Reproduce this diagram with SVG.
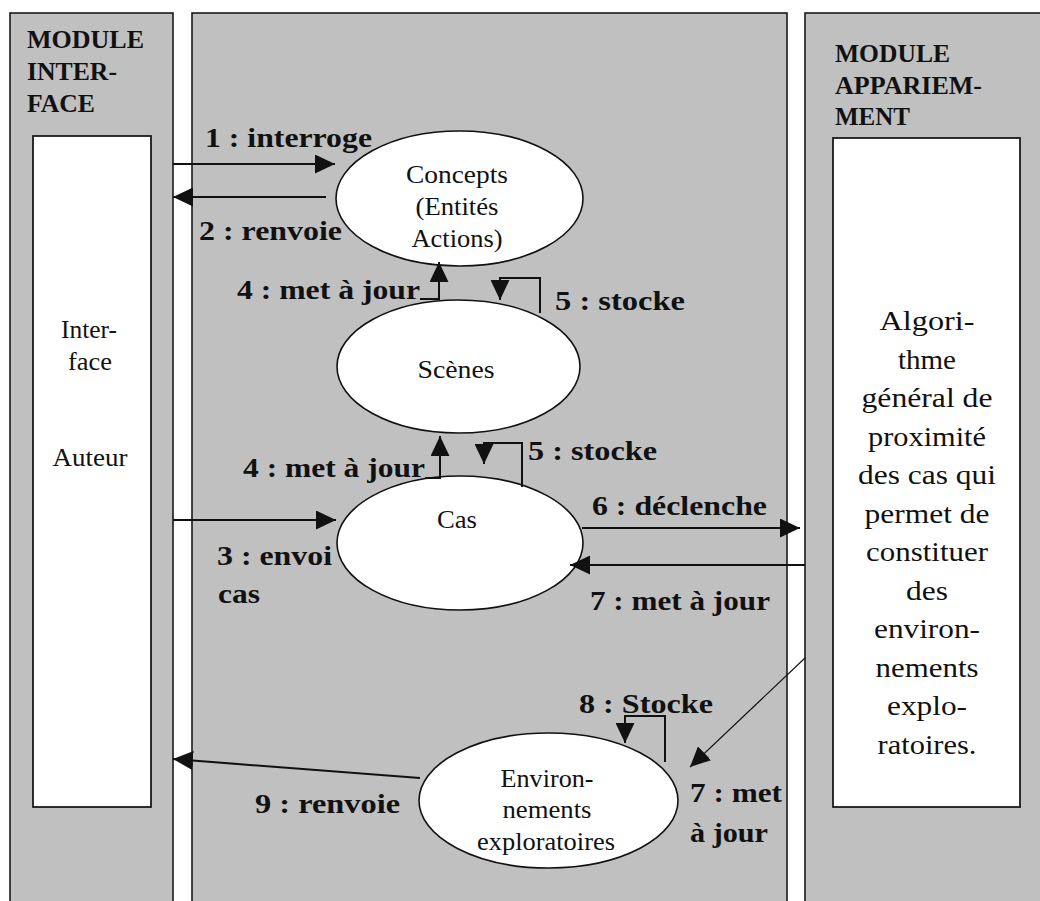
<svg xmlns="http://www.w3.org/2000/svg" width="1040" height="901" viewBox="0 0 1040 901">
<style>
.panel{fill:#c0c0c0;stroke:#1a1a1a;stroke-width:1.6}
.box{fill:#ffffff;stroke:#1a1a1a;stroke-width:1.8}
.node{fill:#ffffff;stroke:#111;stroke-width:1.6}
.hd{font-family:"Liberation Serif","Times New Roman",serif;font-weight:bold;font-size:26px;fill:#111}
.lb{font-family:"Liberation Serif","Times New Roman",serif;font-weight:bold;font-size:28px;fill:#111}
.nt{font-family:"Liberation Serif","Times New Roman",serif;font-size:26px;fill:#111;text-anchor:middle}
.bt{font-family:"Liberation Serif","Times New Roman",serif;font-size:27px;fill:#111;text-anchor:middle}
.cn{fill:none;stroke:#111;stroke-width:2;marker-end:url(#ah)}
.cnt{fill:none;stroke:#111;stroke-width:1.2;marker-end:url(#ah)}
</style>
<defs>
<marker id="ah" markerUnits="userSpaceOnUse" markerWidth="21" markerHeight="19" refX="20" refY="9.5" orient="auto">
<path d="M0,0 L20,9.5 L0,19 z" fill="#111"/>
</marker>
</defs>
<rect width="1040" height="901" fill="#ffffff"/>

<g id="module-interface">
<rect class="panel" x="10" y="13" width="163" height="900"/>
<text class="hd" x="27" y="48" textLength="117" lengthAdjust="spacingAndGlyphs">MODULE</text>
<text class="hd" x="27" y="80" textLength="90" lengthAdjust="spacingAndGlyphs">INTER-</text>
<text class="hd" x="27" y="112" textLength="68" lengthAdjust="spacingAndGlyphs">FACE</text>
</g>
<g id="interface-auteur">
<rect class="box" x="33" y="136" width="118" height="671"/>
<text class="nt" x="89" y="338" textLength="56" lengthAdjust="spacingAndGlyphs">Inter-</text>
<text class="nt" x="90" y="370" textLength="44" lengthAdjust="spacingAndGlyphs">face</text>
<text class="nt" x="90" y="466" textLength="75" lengthAdjust="spacingAndGlyphs">Auteur</text>
</g>

<g id="module-central">
<rect class="panel" x="192" y="13" width="595" height="900"/>
</g>

<g id="module-appariement">
<rect class="panel" x="805" y="13" width="250" height="900"/>
<text class="hd" x="835" y="62" textLength="115" lengthAdjust="spacingAndGlyphs">MODULE</text>
<text class="hd" x="835" y="94" textLength="147" lengthAdjust="spacingAndGlyphs">APPARIEM-</text>
<text class="hd" x="835" y="125" textLength="75" lengthAdjust="spacingAndGlyphs">MENT</text>
</g>
<g id="algorithme">
<rect class="box" x="833" y="138" width="187" height="669"/>
<text class="bt" x="927" y="330" textLength="95" lengthAdjust="spacingAndGlyphs">Algori-</text>
<text class="bt" x="927" y="368.5" textLength="58" lengthAdjust="spacingAndGlyphs">thme</text>
<text class="bt" x="927" y="407" textLength="131" lengthAdjust="spacingAndGlyphs">général de</text>
<text class="bt" x="927" y="445.5" textLength="118" lengthAdjust="spacingAndGlyphs">proximité</text>
<text class="bt" x="927" y="484" textLength="138" lengthAdjust="spacingAndGlyphs">des cas qui</text>
<text class="bt" x="927" y="522.5" textLength="125" lengthAdjust="spacingAndGlyphs">permet de</text>
<text class="bt" x="927" y="561" textLength="122" lengthAdjust="spacingAndGlyphs">constituer</text>
<text class="bt" x="927" y="599.5" textLength="42" lengthAdjust="spacingAndGlyphs">des</text>
<text class="bt" x="927" y="638" textLength="106" lengthAdjust="spacingAndGlyphs">environ-</text>
<text class="bt" x="927" y="676.5" textLength="103" lengthAdjust="spacingAndGlyphs">nements</text>
<text class="bt" x="927" y="715" textLength="80" lengthAdjust="spacingAndGlyphs">explo-</text>
<text class="bt" x="927" y="753.5" textLength="99" lengthAdjust="spacingAndGlyphs">ratoires.</text>
</g>

<g id="concepts">
<ellipse class="node" cx="459.5" cy="198.5" rx="123.5" ry="67.5"/>
<text class="nt" x="457" y="183" textLength="102" lengthAdjust="spacingAndGlyphs">Concepts</text>
<text class="nt" x="457" y="215" textLength="83" lengthAdjust="spacingAndGlyphs">(Entités</text>
<text class="nt" x="457" y="247" textLength="91" lengthAdjust="spacingAndGlyphs">Actions)</text>
</g>
<g id="scenes">
<ellipse class="node" cx="458.5" cy="366.5" rx="121.5" ry="66.5"/>
<text class="nt" x="456" y="378" textLength="77" lengthAdjust="spacingAndGlyphs">Scènes</text>
</g>
<g id="cas">
<ellipse class="node" cx="460" cy="543" rx="123" ry="67"/>
<text class="nt" x="457" y="528" textLength="40" lengthAdjust="spacingAndGlyphs">Cas</text>
</g>
<g id="environnements">
<ellipse class="node" cx="548.5" cy="800.5" rx="129.5" ry="67.5"/>
<text class="nt" x="547" y="787" textLength="93" lengthAdjust="spacingAndGlyphs">Environ-</text>
<text class="nt" x="547" y="818" textLength="89" lengthAdjust="spacingAndGlyphs">nements</text>
<text class="nt" x="546" y="850" textLength="138" lengthAdjust="spacingAndGlyphs">exploratoires</text>
</g>

<g id="connectors">
<path class="cn" d="M173,164 L335,164"/>
<path class="cn" d="M326,197 L173,197"/>
<path class="cn" d="M420,299 L439,299 L439,262"/>
<path class="cn" d="M540,313 L540,278 L500,278 L500,300"/>
<path class="cn" d="M425,478 L440,478 L440,436"/>
<path class="cn" d="M522,487 L522,443 L484,443 L484,464"/>
<path class="cn" d="M173,520 L336,520"/>
<path class="cn" d="M582,528 L800,528"/>
<path class="cn" d="M805,565 L570,565"/>
<path class="cnt" d="M805,658 L690,767"/>
<path class="cn" d="M665,762 L665,716 L625,716 L625,743"/>
<path class="cn" d="M420,778 L173,759"/>

<text class="lb" x="205" y="147" textLength="167" lengthAdjust="spacingAndGlyphs">1 : interroge</text>
<text class="lb" x="199" y="240" textLength="143" lengthAdjust="spacingAndGlyphs">2 : renvoie</text>
<text class="lb" x="237" y="299" textLength="183" lengthAdjust="spacingAndGlyphs">4 : met à jour</text>
<text class="lb" x="555" y="310" textLength="130" lengthAdjust="spacingAndGlyphs">5 : stocke</text>
<text class="lb" x="243" y="477" textLength="182" lengthAdjust="spacingAndGlyphs">4 : met à jour</text>
<text class="lb" x="528" y="460" textLength="129" lengthAdjust="spacingAndGlyphs">5 : stocke</text>
<text class="lb" x="592" y="515" textLength="175" lengthAdjust="spacingAndGlyphs">6 : déclenche</text>
<text class="lb" x="217" y="565" textLength="115" lengthAdjust="spacingAndGlyphs">3 : envoi</text>
<text class="lb" x="218" y="603" textLength="42" lengthAdjust="spacingAndGlyphs">cas</text>
<text class="lb" x="590" y="610" textLength="180" lengthAdjust="spacingAndGlyphs">7 : met à jour</text>
<text class="lb" x="579" y="713" textLength="134" lengthAdjust="spacingAndGlyphs">8 : Stocke</text>
<text class="lb" x="690" y="802" textLength="92" lengthAdjust="spacingAndGlyphs">7 : met</text>
<text class="lb" x="690" y="842" textLength="78" lengthAdjust="spacingAndGlyphs">à jour</text>
<text class="lb" x="255" y="813" textLength="145" lengthAdjust="spacingAndGlyphs">9 : renvoie</text>
</g>
</svg>
